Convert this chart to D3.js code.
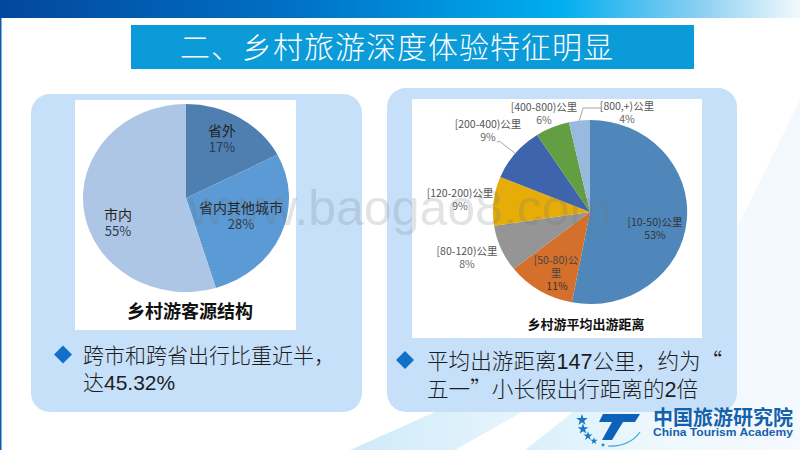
<!DOCTYPE html>
<html lang="zh-CN">
  <head>
    <meta charset="utf-8">
    <title>乡村旅游深度体验特征明显</title>
    <script src="https://cdn.jsdelivr.net/npm/d3@7"></script>
    <style>
html, body { margin: 0; padding: 0; background: #fff; }
svg { display: block; }
text { font-family: "Noto Sans CJK SC", sans-serif; }
    </style>
  </head>
  <body>
    <script>

// left pie, share of visitors by origin
var originNames = ["省外", "省内其他城市", "市内"],
    originValues = [17.4, 27.92, 54.68],
    originLabels = ["17%", "28%", "55%"],
    originColors = ["#4f7fb1", "#5b9ad5", "#adc6e5"];

// right pie, share of trips by distance
var distanceNames = ["[10-50)公里", "[50-80)公里", "[80-120)公里", "[120-200)公里", "[200-400)公里", "[400-800)公里", "[800,+)公里"],
    distanceValues = [53.0, 11.4, 8.2, 8.6, 9.6, 5.7, 3.5],
    distanceLabels = ["53%", "11%", "8%", "9%", "9%", "6%", "4%"],
    distanceColors = ["#4f87bb", "#d4702b", "#959595", "#e6ac07", "#3e64ad", "#649e43", "#98bade"];

var w = 800,
    h = 450;

var svg = d3.select("body").append("svg")
    .attr("width", w)
    .attr("height", h);

var defs = svg.append("defs");

gradient("topBand", [[0, "#03479d"], [.36, "#0070c4"], [.7, "#00aeef"], [.88, "#8fd0f2"], [1, "#f2fafe"]]);
gradient("swoosh", [[0, "#cfeaf9"], [1, "#e6f5fc"]]);
gradient("swooshRight", [[0, "#daf0fb"], [.5, "#eef8fd"], [1, "#f5faff"]]);

function gradient(id, stops) {
  var g = defs.append("linearGradient").attr("id", id);
  stops.forEach(function(s) {
    g.append("stop").attr("offset", s[0]).attr("stop-color", s[1]);
  });
}

drawBackground();

// title bar
svg.append("rect")
    .attr("x", 131).attr("y", 25)
    .attr("width", 563).attr("height", 44)
    .attr("fill", "#0b9bd8");
svg.append("text")
    .attr("x", 397).attr("y", 47)
    .attr("dy", ".36em")
    .attr("text-anchor", "middle")
    .attr("fill", "#fff")
    .style("font-size", "30px")
    .style("font-weight", 300)
    .style("letter-spacing", "1px")
    .text("二、乡村旅游深度体验特征明显");

// panels and the white chart pictures
[[31, 94, 331, 318], [387, 88, 350, 324]].forEach(function(p) {
  svg.append("rect")
      .attr("x", p[0]).attr("y", p[1])
      .attr("width", p[2]).attr("height", p[3])
      .attr("rx", 19)
      .attr("fill", "#c6e0f9");
});
[[75, 100, 221, 230], [412, 99, 290, 239]].forEach(function(p) {
  svg.append("rect")
      .attr("x", p[0]).attr("y", p[1])
      .attr("width", p[2]).attr("height", p[3])
      .attr("fill", "#fff");
});

var pie = d3.pie().sort(null);
var unitArc = d3.arc().innerRadius(0).outerRadius(1);
var edgeArc = d3.arc().innerRadius(1).outerRadius(1);

drawPie(originValues, originColors, 186, 198, 103, 94);
var distanceArcs = drawPie(distanceValues, distanceColors, 590, 212, 97, 92);

function drawPie(values, colors, cx, cy, rx, ry) {
  var arcs = pie(values);
  svg.append("g")
      .attr("transform", "translate(" + cx + "," + cy + ") scale(" + rx + "," + ry + ")")
    .selectAll("path")
      .data(arcs)
    .enter().append("path")
      .attr("fill", function(d, i) { return colors[i]; })
      .attr("d", unitArc);
  return arcs.map(function(d) {
    var c = edgeArc.centroid(d);
    return [cx + c[0] * rx, cy + c[1] * ry];
  });
}

// left pie labels
var originLabelPos = [[222, 131], [241, 208], [118, 215]];
originNames.forEach(function(name, i) {
  label(originLabelPos[i][0], originLabelPos[i][1], name, 14, "#222");
  label(originLabelPos[i][0], originLabelPos[i][1] + 16, originLabels[i], 13, "#2b3a4a");
});
chartTitle(190, 312, "乡村游客源结构", 18);

// right pie labels, the slice 50-80 wraps in the original
var distanceLabelPos = [[655, 222], [557, 260], [467, 251], [460, 193], [488, 124.5], [544, 107], [627, 106]];
distanceNames.forEach(function(name, i) {
  var p = distanceLabelPos[i], y = p[1];
  if (i == 1) {
    label(p[0] - 1, y, "[50-80)公", 10.5, "#444");
    label(p[0] - 1, y += 13.5, "里", 10.5, "#444");
  } else {
    label(p[0], y, name, 10.5, i == 0 ? "#333" : "#555");
  }
  label(p[0], y + 13, distanceLabels[i], 10.5, i < 2 ? "#333" : "#666");
});

// leader lines run from the slice edge to their labels
leader(distanceArcs[6], [[583, 108], [601, 108]]);
leader(distanceArcs[4], [[500, 141.7], [497, 141.7]]);

function leader(from, rest) {
  svg.append("path")
      .attr("d", d3.line()([from].concat(rest)))
      .attr("fill", "none")
      .attr("stroke", "#a6a6a6");
}

chartTitle(586, 324, "乡村游平均出游距离", 13);

// bullets
diamond(63, 354.5, 9);
textLine(83, 355, "跨市和跨省出行比重近半，", 21);
textLine(83, 382, "达45.32%", 21);
diamond(405, 360, 9);
textLine(427, 361, "平均出游距离147公里，约为“", 21.6);
textLine(427, 389, "五一”小长假出行距离的2倍", 21.6);

drawLogo();

// watermark lies over everything
svg.append("text")
    .attr("x", 400).attr("y", 225)
    .attr("text-anchor", "middle")
    .attr("fill", "#70757c")
    .attr("fill-opacity", .2)
    .style("font-family", "'Liberation Sans'")
    .style("font-size", "50px")
    .text("www.baogao8.com");

function label(x, y, t, size, color) {
  svg.append("text")
      .attr("x", x).attr("y", y)
      .attr("dy", ".36em")
      .attr("text-anchor", "middle")
      .attr("fill", color)
      .style("font-size", size + "px")
      .text(t);
}

function chartTitle(x, y, t, size) {
  svg.append("text")
      .attr("x", x).attr("y", y)
      .attr("dy", ".36em")
      .attr("text-anchor", "middle")
      .attr("fill", "#111")
      .style("font-size", size + "px")
      .style("font-weight", 700)
      .text(t);
}

function diamond(x, y, r) {
  svg.append("path")
      .attr("d", d3.line()([[x - r, y], [x, y - r], [x + r, y], [x, y + r]]) + "Z")
      .attr("fill", "#1270c8");
}

// digits are in a latin face, the rest stays CJK
function textLine(x, y, t, size) {
  var el = svg.append("text")
      .attr("x", x).attr("y", y)
      .attr("dy", ".36em")
      .attr("fill", "#1d1d1d")
      .style("font-size", size + "px")
      .style("font-weight", 300);
  t.split(/([0-9.%]+)/).forEach(function(part, i) {
    if (!part) return;
    var s = el.append("tspan").text(part);
    if (i % 2) s.style("font-family", "'Liberation Sans'").style("font-weight", 400);
  });
}

function drawBackground() {
  svg.append("rect").attr("width", w).attr("height", 18).attr("fill", "url(#topBand)");
  svg.append("rect").attr("y", 18).attr("width", 1.5).attr("height", h - 18).attr("fill", "#0b5cab");

  // pale sweeps at the lower right
  svg.append("path")
      .attr("d", "M800,100L720,262L720,450L800,450Z")
      .attr("fill", "#f3f9fe");
  svg.append("path")
      .attr("d", "M350,450L435,412L522,412L455,450Z")
      .attr("fill", "url(#swoosh)");
  svg.append("path")
      .attr("d", "M525,450L573,412L800,412L800,450Z")
      .attr("fill", "url(#swooshRight)");
}

function drawLogo() {
  // star arc
  var star = d3.symbol().type(d3.symbolStar);
  [[582, 420, 42], [583, 429, 36], [588, 436, 26], [594, 441, 16], [603, 445, 6]].forEach(function(s) {
    svg.append("path")
        .attr("transform", "translate(" + s[0] + "," + s[1] + ")")
        .attr("d", star.size(s[2])())
        .attr("fill", "#1a78c2");
  });

  svg.append("path")
      .attr("d", "M603,414L640,414L635,422L623,422L612,440L602,440L612,422L599,422Z")
      .attr("fill", "#0c62b8");
  svg.append("path")
      .attr("d", "M608,446C622,447 634,441 640,432")
      .attr("fill", "none")
      .attr("stroke", "#3f9fdc")
      .attr("stroke-width", 1.2);

  svg.append("text")
      .attr("x", 653).attr("y", 425)
      .attr("fill", "#1561ab")
      .style("font-size", "20px")
      .style("font-weight", 700)
      .attr("textLength", 140)
      .text("中国旅游研究院");
  svg.append("text")
      .attr("x", 653).attr("y", 436)
      .attr("fill", "#1561ab")
      .style("font-family", "'Liberation Sans'")
      .style("font-size", "10px")
      .style("font-weight", 700)
      .attr("textLength", 140)
      .attr("lengthAdjust", "spacingAndGlyphs")
      .text("China Tourism Academy");
}

    </script>
  </body>
</html>
